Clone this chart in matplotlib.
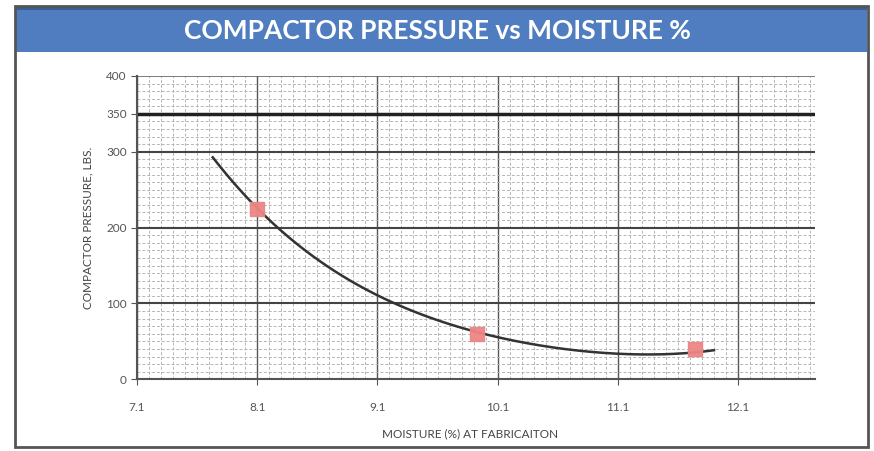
import numpy as np
import matplotlib
matplotlib.use("Agg")
import matplotlib.pyplot as plt
from matplotlib.patches import Rectangle
from matplotlib.ticker import MultipleLocator, FixedLocator

# Data
moisture = [8.10, 9.93, 11.74]
pressure = [225, 60, 40]

# trendline
trend_x = [7.73, 7.92, 8.10, 8.26, 8.69, 9.16, 9.22, 9.43, 9.71, 9.93, 10.10, 10.39, 10.66, 10.93, 11.10, 11.48, 11.90]
trend_y = [297, 252, 224, 200, 151, 109, 100, 90, 74, 59, 54, 45, 39, 36, 35, 35, 37]

x_ticks = [7.1, 8.1, 9.1, 10.1, 11.1, 12.1]
y_ticks = [0, 100, 200, 300, 350, 400]

title = "COMPACTOR PRESSURE vs MOISTURE %"
xlabel = "MOISTURE (%) AT FABRICAITON"
ylabel = "COMPACTOR PRESSURE, LBS."

plt.rcParams['font.family'] = ['Lato', 'DejaVu Sans']

fig = plt.figure(figsize=(8.74, 4.51), dpi=100, facecolor='white')
W, H = 874, 451

# outer frame
fig.patches.append(Rectangle((15 / W, 1 - 447 / H), (868 - 15) / W, (447 - 6) / H,
                             transform=fig.transFigure, facecolor='none',
                             edgecolor='#555555', linewidth=2, zorder=5))
# title banner
fig.patches.append(Rectangle((16 / W, 1 - 52 / H), (867 - 16) / W, (52 - 8) / H,
                             transform=fig.transFigure, facecolor='#4f7dc0',
                             edgecolor='none', zorder=4))
fig.patches.append(Rectangle((16 / W, 1 - 10 / H), (867 - 16) / W, 3 / H,
                             transform=fig.transFigure, facecolor='#3a5f96',
                             edgecolor='none', zorder=4))
fig.text(437 / W, 1 - 31 / H, title, ha='center', va='center', color='white',
         fontsize=19, fontweight='bold', zorder=6)

ax = fig.add_axes([137 / W, 1 - 379.3 / H, (815 - 137) / W, (379.3 - 76) / H])
ax.set_zorder(2)
ax.patch.set_alpha(0)
ax.set_xlim(7.1, 12.74)
ax.set_ylim(0, 400)

# grid
ax.xaxis.set_major_locator(FixedLocator(x_ticks))
ax.yaxis.set_major_locator(FixedLocator(y_ticks))
ax.xaxis.set_minor_locator(MultipleLocator(0.1))
ax.yaxis.set_minor_locator(MultipleLocator(10))
ax.grid(which='minor', color='#b5b5b5', linestyle=(0, (3, 2)), linewidth=0.7)
ax.grid(which='major', axis='x', color='#555555', linewidth=1.0)
for v in [100, 200, 300]:
    ax.axhline(v, color='#444444', linewidth=1.5, zorder=1.5)
ax.axhline(350, color='#222222', linewidth=2.5, zorder=1.5)
ax.axhline(400, color='#666666', linewidth=1.2, zorder=1.5)
ax.set_axisbelow(True)

for s in ['top', 'right']:
    ax.spines[s].set_visible(False)
for s in ['left', 'bottom']:
    ax.spines[s].set_color('#555555')
    ax.spines[s].set_linewidth(1.5)

ax.tick_params(which='minor', length=0)
ax.tick_params(which='major', length=4, color='#555555', labelcolor='#555555',
               labelsize=8.5)
ax.tick_params(axis='x', pad=12)
ax.set_xticklabels([str(v) for v in x_ticks])
ax.set_yticklabels([str(v) for v in y_ticks])

# trendline (smoothed through the read points)
coef = np.polyfit(trend_x, trend_y, 4)
xs = np.linspace(min(trend_x), max(trend_x), 200)
ax.plot(xs, np.polyval(coef, xs), color='#333333', linewidth=1.8, zorder=3)

ax.plot(moisture, pressure, linestyle='none', marker='s', markersize=10,
        markerfacecolor='#ee8585', markeredgecolor='#ee8585', zorder=4, alpha=0.95)

fig.text(470 / W, 1 - 434 / H, xlabel, ha='center', va='center',
         color='#444444', fontsize=8.5)
fig.text(88 / W, 1 - 228 / H, ylabel, ha='center', va='center',
         rotation=90, color='#444444', fontsize=8.5)

fig.savefig('out.png', dpi=100)
